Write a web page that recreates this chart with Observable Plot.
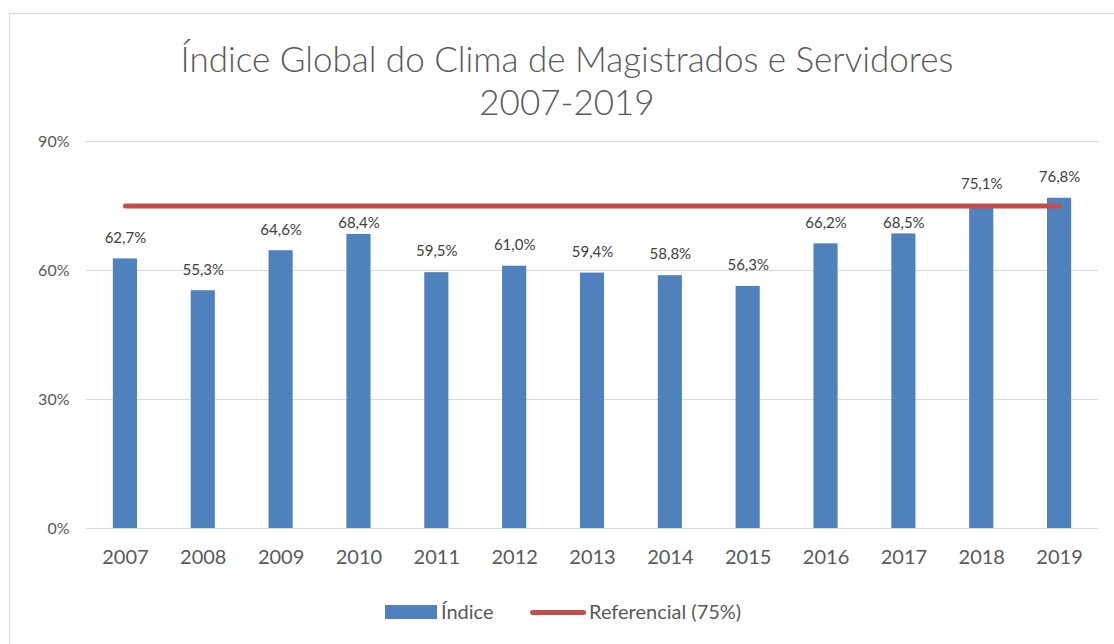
<!DOCTYPE html>
<html>
<head>
<meta charset="utf-8">
<script src="https://cdn.jsdelivr.net/npm/d3@7"></script>
<script src="https://cdn.jsdelivr.net/npm/@observablehq/plot@0.6"></script>
<style>
  body { margin: 0; background: #fff; font-family: Lato, "Open Sans", sans-serif; }
  #wrap { position: relative; width: 1114px; height: 644px; overflow: hidden; }
  #frame { position: absolute; left: 9px; top: 13px; width: 1110px; height: 640px; border: 1px solid #d9d9d9; box-sizing: border-box; }
  #title { position: absolute; left: 0; width: 1134px; top: 37px; text-align: center; color: #595959; font-size: 35px; line-height: 43px; font-weight: 300; }
  #chart { position: absolute; left: 0; top: 0; }
  #legend { position: absolute; top: 596px; left: 0; width: 1114px; height: 30px; font-size: 20px; color: #595959; }
  .sw { position: absolute; }
  .lbl { position: absolute; line-height: 30px; }
</style>
</head>
<body>
<div id="wrap">
  <div id="frame"></div>
  <div id="chart"></div>
  <div id="title">Índice Global do Clima de Magistrados e Servidores<br>2007-2019</div>
  <div id="legend">
    <div class="sw" style="left:385px; top:9px; width:52px; height:14px; background:#4F81BD;"></div>
    <div class="lbl" style="left:441px; top:0;">Índice</div>
    <div class="sw" style="left:530px; top:14px; width:56px; height:5px; border-radius:3px; background:#C0504D;"></div>
    <div class="lbl" style="left:589px; top:0;">Referencial (75%)</div>
  </div>
</div>
<script>
const years = ["2007","2008","2009","2010","2011","2012","2013","2014","2015","2016","2017","2018","2019"];
const indice = [62.7, 55.3, 64.6, 68.4, 59.5, 61.0, 59.4, 58.8, 56.3, 66.2, 68.5, 75.1, 76.8];
const referencial = [75, 75, 75, 75, 75, 75, 75, 75, 75, 75, 75, 75, 75];
const yTicks = [0, 30, 60, 90];

const data = years.map((y, i) => ({year: y, value: indice[i], ref: referencial[i]}));
const fmt = v => v.toFixed(1).replace(".", ",") + "%";
// labels that would overlap the reference line are tucked between line and bar
const collides = d => Math.abs(d.value + 4.7 - d.ref) < 3;

const chart = Plot.plot({
  width: 1114,
  height: 644,
  marginLeft: 86,
  marginRight: 16,
  marginTop: 141,
  marginBottom: 116,
  style: {fontFamily: "Lato, 'Open Sans', sans-serif", color: "#595959", background: "transparent"},
  x: {domain: years, paddingInner: 0.69, paddingOuter: 0.345, align: 0.5, round: false, label: null},
  y: {domain: [0, 90], label: null},
  marks: [
    Plot.ruleY(yTicks, {stroke: "#d9d9d9", strokeWidth: 1}),
    Plot.barY(data, {x: "year", y: "value", fill: "#4F81BD"}),
    Plot.lineY(data, {x: "year", y: "ref", stroke: "#C0504D", strokeWidth: 5, strokeLinecap: "round"}),
    Plot.text(data.filter(d => !collides(d)), {x: "year", y: "value", text: d => fmt(d.value), dy: -21, fontSize: 15, fill: "#404040"}),
    Plot.text(data.filter(collides), {x: "year", y: "value", text: d => fmt(d.value), dy: -11, fontSize: 15, fill: "#404040"}),
    Plot.axisY({ticks: yTicks, tickSize: 0, tickPadding: 17, tickFormat: d => d + "%", fontSize: 16, fill: "#595959"}),
    Plot.axisX({tickSize: 0, tickPadding: 21, fontSize: 20, fill: "#595959"})
  ]
});
document.getElementById("chart").appendChild(chart);
</script>
</body>
</html>
